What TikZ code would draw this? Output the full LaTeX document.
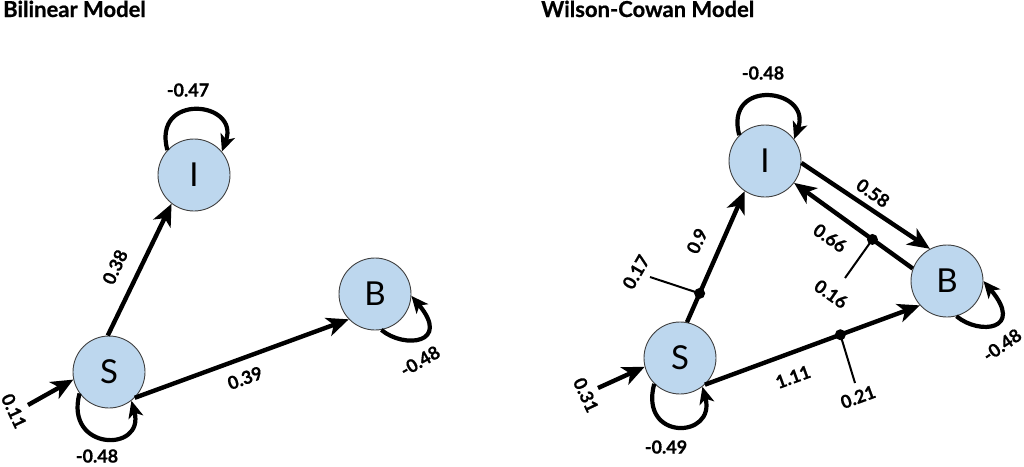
\documentclass[tikz,border=0pt]{standalone}
\usepackage{fontspec}
\setmainfont{Lato}[BoldFeatures={FakeBold=0.7}]
\usetikzlibrary{arrows.meta}
\definecolor{nodeblue}{HTML}{BDD7EE}
\definecolor{nodeborder}{HTML}{404040}
\tikzset{
  state/.style={circle, minimum size=72pt, inner sep=0pt, fill=nodeblue, draw=nodeborder, line width=0.9pt, font=\fontsize{33}{33}\selectfont},
  arr/.style={line width=4.4pt, -{Stealth[length=22pt, width=19pt, inset=6pt]}},
  looparr/.style={line width=4.2pt, -{Stealth[length=17pt, width=15pt, inset=4.5pt]}},
  mod/.style={line width=2pt},
  lbl/.style={font=\bfseries\fontsize{18}{18}\selectfont, inner sep=0pt},
  ttl/.style={font=\bfseries\fontsize{22}{22}\selectfont, inner sep=0pt, anchor=base west},
}
\begin{document}
\begin{tikzpicture}[x=1pt,y=1pt]
\useasboundingbox (0,0) rectangle (1024,-466);
% titles
\node[ttl] (t1) at (3,-17) {Bilinear Model};
\node[ttl] (t2) at (541,-17) {Wilson-Cowan Model};
% ---------- Bilinear ----------
\node[state] (I1) at (194,-175) {I};
\node[state] (B1) at (375,-294) {B};
\node[state] (S1) at (109,-372) {S};
\coordinate (in1) at (28,-405);
\draw[arr] (S1.92) -- (I1.232);
\draw[arr] (S1.-45) -- (B1.224);
\draw[arr] (in1) -- (S1.192);
\draw[looparr] (I1.137) .. controls +(105:60) and +(70:54) .. (I1.40);
\draw[looparr] (S1.216) .. controls +(255:60) and +(-75:54) .. (S1.-52);
\draw[looparr] (B1.-80) .. controls +(-40:30) and +(-50:62) .. (B1.-3);
\node[lbl] (l1) at (188,-90) {-0.47};
\node[lbl, rotate=65] (l2) at (115,-267) {0.38};
\node[lbl, rotate=20] (l3) at (245,-378) {0.39};
\node[lbl, rotate=30] (l4) at (420,-361) {-0.48};
\node[lbl] (l5) at (97,-456) {-0.48};
\node[lbl, rotate=-65] (l6) at (14,-411) {0.11};
% ---------- Wilson-Cowan ----------
\node[state] (I2) at (765,-161) {I};
\node[state] (B2) at (947,-281) {B};
\node[state] (S2) at (680,-358) {S};
\coordinate (in2) at (598,-388);
\draw[arr] (S2.79) -- coordinate[pos=0.22] (k1) (I2.236);
\draw[arr] (I2.-3) -- (B2.118);
\draw[arr] (B2.160) -- coordinate[pos=0.34] (k2) (I2.-37);
\draw[arr] (S2.-47) -- coordinate[pos=0.63] (k3) (B2.222);
\draw[arr] (in2) -- (S2.194);
\draw[looparr] (I2.135) .. controls +(105:60) and +(70:54) .. (I2.37);
\draw[looparr] (S2.225) .. controls +(255:60) and +(-75:54) .. (S2.-52);
\draw[looparr] (B2.-75) .. controls +(-40:30) and +(-50:64) .. (B2.0);
\coordinate (m1) at (650,-277);
\coordinate (m2) at (845,-278);
\coordinate (m3) at (855,-383);
\draw[mod] (m1) -- (k1); \fill (k1) circle (5.5);
\draw[mod] (m2) -- (k2); \fill (k2) circle (5.5);
\draw[mod] (m3) -- (k3); \fill (k3) circle (5.5);
\node[lbl] (r1) at (763,-73) {-0.48};
\node[lbl, rotate=65] (r2) at (697,-241) {0.9};
\node[lbl, rotate=60] (r3) at (636,-272) {0.17};
\node[lbl, rotate=-35] (r4) at (873,-193) {0.58};
\node[lbl, rotate=-35] (r5) at (830,-238) {0.66};
\node[lbl, rotate=-35] (r6) at (831,-294) {0.16};
\node[lbl, rotate=20] (r7) at (793,-377) {1.11};
\node[lbl, rotate=20] (r8) at (858,-397) {0.21};
\node[lbl, rotate=35] (r9) at (1002,-345) {-0.48};
\node[lbl] (r10) at (666,-447) {-0.49};
\node[lbl, rotate=-65] (r11) at (586,-395) {0.31};
\end{tikzpicture}
\end{document}
